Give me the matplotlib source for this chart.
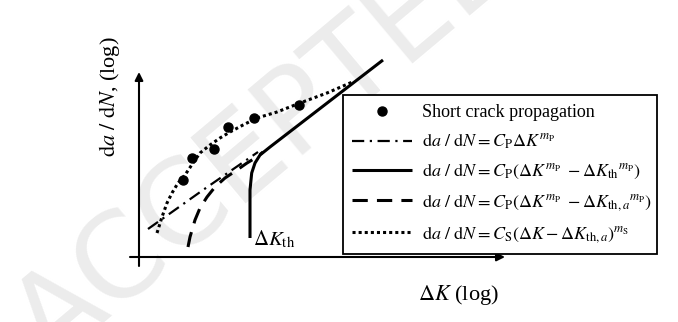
import matplotlib
matplotlib.use("Agg")
import matplotlib.pyplot as plt

plt.rcParams['font.family'] = ['Liberation Serif', 'DejaVu Serif']
plt.rcParams['mathtext.fontset'] = 'stix'

# schematic values (log dK, log da/dN), origin at the axes crossing
dots_x = [44, 53, 75, 89, 115, 160]
dots_y = [77, 99, 108, 130, 139, 152]

paris_x = [9, 64, 119]
paris_y = [28, 67, 105]

th_x = [111, 111, 112.7, 116, 121, 131, 244]
th_y = [19, 67, 84, 94, 102, 110, 197]

tha_x = [49, 51, 56, 61, 68, 76, 86, 98, 108, 118, 124]
tha_y = [10, 20, 37, 49, 60, 70, 79, 87, 94, 100, 105]

short_x = [18, 23, 28, 33, 39, 46, 54, 61, 71, 81, 91, 104, 118, 138, 161, 188, 211, 214]
short_y = [24, 40, 54, 64, 74, 82, 94, 104, 112, 119, 125, 132, 139, 145, 154, 164, 174, 175]

labels = [
    'Short crack propagation',
    r'$\mathrm{d}a\ /\ \mathrm{d}N = C_\mathrm{P}\Delta K^{m_\mathrm{P}}$',
    r'$\mathrm{d}a\ /\ \mathrm{d}N = C_\mathrm{P}(\Delta K^{m_\mathrm{P}}\ - \Delta K_\mathrm{th}{}^{m_\mathrm{P}})$',
    r'$\mathrm{d}a\ /\ \mathrm{d}N = C_\mathrm{P}(\Delta K^{m_\mathrm{P}}\ - \Delta K_{\mathrm{th},a}{}^{m_\mathrm{P}})$',
    r'$\mathrm{d}a\ /\ \mathrm{d}N = C_\mathrm{S}(\Delta K - \Delta K_{\mathrm{th},a})^{m_\mathrm{S}}$',
]

fig = plt.figure(figsize=(6.78, 3.22), dpi=100)
ax = fig.add_axes([0, 0, 1, 1])
ax.set_xlim(-139, 539)
ax.set_ylim(-65, 257)
ax.axis('off')

# watermark
ax.text(131, 117, 'ACCEPTED', fontsize=85, family='DejaVu Sans', color='#ececec',
        rotation=40, ha='center', va='center', zorder=0)

# axes with arrows
ax.annotate('', xy=(366, 0), xytext=(-9, 0),
            arrowprops=dict(arrowstyle='-|>', lw=1.5, color='k', mutation_scale=12, shrinkA=0, shrinkB=0))
ax.annotate('', xy=(0, 185), xytext=(0, -9),
            arrowprops=dict(arrowstyle='-|>', lw=1.5, color='k', mutation_scale=12, shrinkA=0, shrinkB=0))

h1, = ax.plot(dots_x, dots_y, 'o', color='k', ms=6.5, ls='none')
h2, = ax.plot(paris_x, paris_y, color='k', lw=1.6, ls=(0, (5.5, 2.5, 1, 2.5)))
h3, = ax.plot(th_x, th_y, color='k', lw=2.2, solid_capstyle='butt')
h4, = ax.plot(tha_x, tha_y, color='k', lw=2.2, ls=(0, (5, 3)))
h5, = ax.plot(short_x, short_y, color='k', lw=2.2, ls=(0, (1, 1)))

ax.text(114, 12, r'$\Delta K_\mathrm{th}$', fontsize=15, ha='left', va='baseline')

ax.text(319, -38, r'$\Delta K$ (log)', fontsize=16, ha='center', va='center')
ax.text(-29, 160, r'$\mathrm{d}a\ /\ \mathrm{d}N$, (log)', fontsize=16,
        rotation=90, ha='center', va='center')

leg = ax.legend([h1, h2, h3, h4, h5], labels, loc='upper left',
                bbox_to_anchor=(204, 5, 314, 157), bbox_transform=ax.transData,
                mode='expand', borderaxespad=0, fontsize=13, handlelength=3.3,
                handletextpad=0.55, labelspacing=0.6, fancybox=False,
                edgecolor='k', framealpha=1, borderpad=0.5)
leg.get_frame().set_linewidth(1.3)

fig.savefig('out.png', dpi=100)
